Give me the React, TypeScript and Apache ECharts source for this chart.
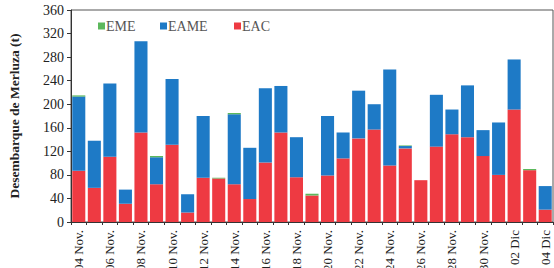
import React, { useEffect, useRef } from "react";
import * as echarts from "echarts";

const categories = [
  "04 Nov.", "05 Nov.", "06 Nov.", "07 Nov.", "08 Nov.", "09 Nov.", "10 Nov.", "11 Nov.",
  "12 Nov.", "13 Nov.", "14 Nov.", "15 Nov.", "16 Nov.", "17 Nov.", "18 Nov.", "19 Nov.",
  "20 Nov.", "21 Nov.", "22 Nov.", "23 Nov.", "24 Nov.", "25 Nov.", "26 Nov.", "27 Nov.",
  "28 Nov.", "29 Nov.", "30 Nov.", "01 Dic", "02 Dic", "03 Dic", "04 Dic",
];

const eac = [
  87, 58, 111, 31, 152, 64, 131, 16,
  75, 74, 64, 39, 101, 152, 76, 45,
  79, 108, 142, 157, 96, 125, 71, 128,
  149, 144, 112, 80, 191, 88, 21,
];

const eame = [
  126, 80, 124, 24, 155, 46, 112, 31,
  105, 0, 119, 87, 126, 79, 68, 0,
  101, 44, 81, 43, 163, 4, 0, 88,
  42, 88, 44, 89, 85, 0, 40,
];

const eme = [
  2, 0, 0, 0, 0, 2, 0, 0,
  0, 1, 2, 0, 0, 0, 0, 3,
  0, 0, 0, 0, 0, 1, 0, 0,
  0, 0, 0, 0, 0, 2, 0,
];

const legendNames = ["EME", "EAME", "EAC"];
const yTicks = { min: 0, max: 360, interval: 40 };

const FONT = "'Liberation Serif', 'Times New Roman', serif";

export default function App() {
  const ref = useRef<HTMLDivElement>(null);
  useEffect(() => {
    if (!ref.current) return;
    const chart = echarts.init(ref.current, null, { renderer: "svg" });
    const barBase = {
      type: "bar" as const,
      stack: "total",
      barCategoryGap: "16%",
    };
    const legendLeft = [93, 155, 229];
    chart.setOption({
      animation: false,
      backgroundColor: "#ffffff",
      textStyle: { fontFamily: FONT },
      grid: {
        left: 71,
        right: 1,
        top: 10,
        bottom: 46,
        containLabel: false,
        outerBoundsMode: "none",
        show: true,
        borderColor: "#555",
        borderWidth: 1,
      },
      legend: legendNames.map((n, i) => ({
        left: legendLeft[i],
        top: 14,
        itemWidth: 7,
        itemHeight: 7,
        itemGap: 0,
        icon: "rect",
        data: [n],
        textStyle: { fontFamily: FONT, fontSize: 14, color: "#555", padding: [0, 0, 0, -4] },
      })),
      xAxis: {
        type: "category",
        data: categories,
        axisLine: { lineStyle: { color: "#333" } },
        axisTick: { show: true, interval: 0, length: 3, lineStyle: { color: "#333" } },
        axisLabel: {
          interval: 1,
          rotate: 90,
          fontFamily: FONT,
          fontSize: 13,
          color: "#222",
          margin: 8,
        },
      },
      yAxis: {
        type: "value",
        min: yTicks.min,
        max: yTicks.max,
        interval: yTicks.interval,
        name: "Desembarque de Merluza (t)",
        nameLocation: "middle",
        nameGap: 50,
        nameTextStyle: { fontFamily: FONT, fontSize: 13.5, fontWeight: "bold", color: "#222" },
        splitLine: { show: false },
        axisLine: { show: true, lineStyle: { color: "#333" } },
        axisTick: { show: true, length: 4, lineStyle: { color: "#333" } },
        axisLabel: { fontFamily: FONT, fontSize: 14, color: "#222", margin: 7 },
      },
      series: [
        {
          ...barBase,
          name: "EAC",
          data: eac,
          itemStyle: { color: "#ee3a42" },
        },
        {
          ...barBase,
          name: "EAME",
          data: eame,
          itemStyle: { color: "#1e7ac6" },
        },
        {
          ...barBase,
          name: "EME",
          data: eme,
          itemStyle: { color: "#5cb85c" },
        },
      ],
    });
    return () => chart.dispose();
  }, []);
  return (
    <div
      ref={ref}
      style={{ position: "fixed", left: 0, top: 0, width: 554, height: 268, background: "#fff" }}
    />
  );
}
